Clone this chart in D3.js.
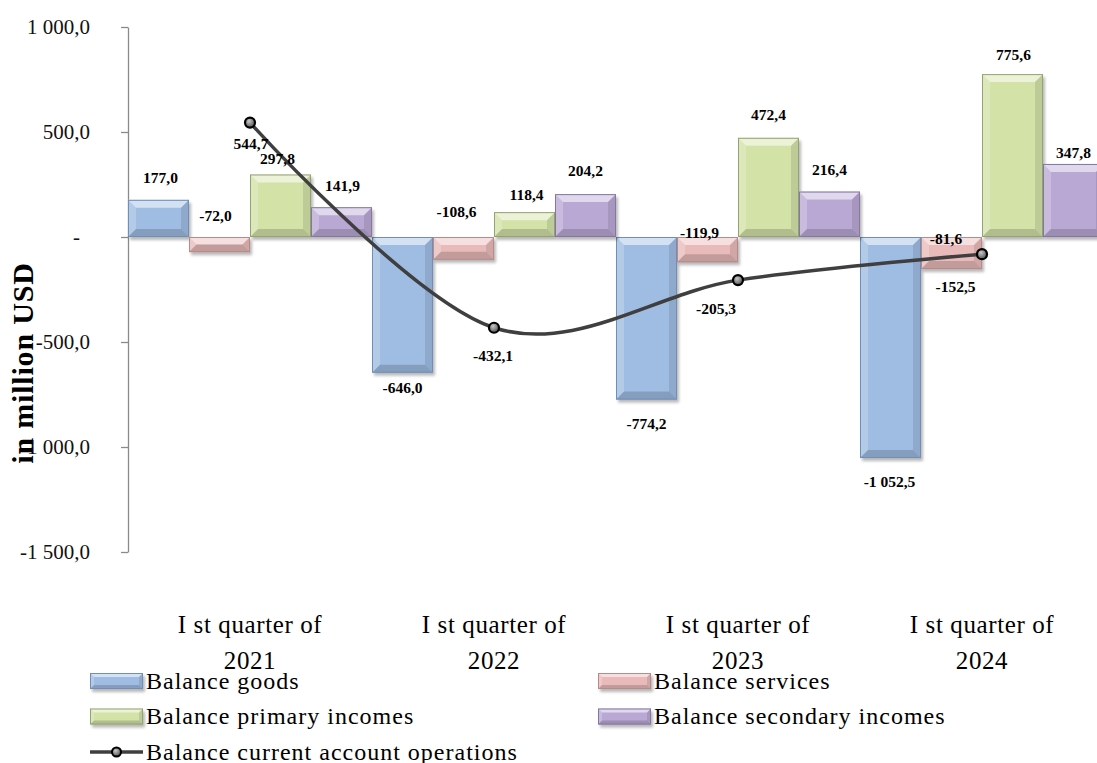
<!DOCTYPE html>
<html>
<head>
<meta charset="utf-8">
<script src="https://cdn.jsdelivr.net/npm/d3@7"></script>
<style>
  html, body { margin: 0; padding: 0; background: #fff; }
  svg { display: block; font-family: "Liberation Serif", serif; }
</style>
</head>
<body>
<div id="chart_container"></div>
<script>
// values (million USD)
var categories = ["I st quarter of 2021", "I st quarter of 2022", "I st quarter of 2023", "I st quarter of 2024"]
var goods = [177.0, -646.0, -774.2, -1052.5]
var services = [-72.0, -108.6, -119.9, -152.5]
var primaryIncomes = [297.8, 118.4, 472.4, 775.6]
var secondaryIncomes = [141.9, 204.2, 216.4, 347.8]
var currentAccount = [544.7, -432.1, -205.3, -81.6]
var yTicks = [-1500, -1000, -500, 0, 500, 1000]

var barSeries = [
    {name: "Balance goods", values: goods, fill: "#9fbde2", edge: "#6f8fb9"},
    {name: "Balance services", values: services, fill: "#e8bab9", edge: "#b88b8a"},
    {name: "Balance primary incomes", values: primaryIncomes, fill: "#d3e2a7", edge: "#93a373"},
    {name: "Balance secondary incomes", values: secondaryIncomes, fill: "#baa8d4", edge: "#8676a2"}
]
var lineName = "Balance current account operations"

// hand placed data labels, [dx, dy] from the end of each bar / each point
var barNudge = [
    [[2, -22], [0, 15], [0, 24], [-1, 24]],
    [[-4, -37], [-7, -48], [-8, -30], [4, 18]],
    [[-3, -16], [2, -18], [0, -23], [1, -20]],
    [[1, -22], [0, -24], [0, -22], [0, -11]]
]
var lineNudge = [[1, 21], [-1, 28], [-22, 28], [-36, -16]]

var W = 1097, H = 763
var left = 128, right = 1104

var svg = d3.select("#chart_container")
    .append("svg")
        .attr("width", W)
        .attr("height", H)

var defs = svg.append("defs")
defs.append("filter").attr("id", "shadow")
    .attr("x", "-20%").attr("y", "-20%").attr("width", "140%").attr("height", "140%")
    .append("feGaussianBlur").attr("stdDeviation", 1.6)
var mg = defs.append("radialGradient").attr("id", "marker_fill")
    .attr("cx", "40%").attr("cy", "35%").attr("r", "65%")
mg.append("stop").attr("offset", "0%").attr("stop-color", "#c8c8c8")
mg.append("stop").attr("offset", "100%").attr("stop-color", "#555")

var x = d3.scaleBand().domain(categories).range([left, right]).padding(0)
var xs = d3.scaleBand().domain(d3.range(barSeries.length)).range([0, x.bandwidth()]).padding(0)
var y = d3.scaleLinear().domain([-1500, 1000]).range([552, 27])

var loc = d3.formatLocale({decimal: ",", thousands: " ", grouping: [3], currency: ["", ""], minus: "-"})
var fmt = loc.format(",.1f")

// bevelled bar, like the office "3d" preset
function bevel(g, x0, y0, w, h, fill, edge, b) {
    b = Math.min(b, h / 2, w / 2)
    g.append("rect").attr("x", x0 + 2).attr("y", y0 + 3).attr("width", w).attr("height", h)
        .attr("fill", "#000").attr("opacity", 0.28).attr("filter", "url(#shadow)")
    g.append("rect").attr("x", x0).attr("y", y0).attr("width", w).attr("height", h).attr("fill", fill)
    var pts = function(a) { return a.map(function(p) { return p.join(",") }).join(" ") }
    g.append("polygon").attr("points", pts([[x0, y0], [x0 + w, y0], [x0 + w - b, y0 + b], [x0 + b, y0 + b]]))
        .attr("fill", "#fff").attr("opacity", 0.55)
    g.append("polygon").attr("points", pts([[x0, y0], [x0 + b, y0 + b], [x0 + b, y0 + h - b], [x0, y0 + h]]))
        .attr("fill", "#fff").attr("opacity", 0.22)
    g.append("polygon").attr("points", pts([[x0 + w, y0], [x0 + w, y0 + h], [x0 + w - b, y0 + h - b], [x0 + w - b, y0 + b]]))
        .attr("fill", "#000").attr("opacity", 0.1)
    g.append("polygon").attr("points", pts([[x0, y0 + h], [x0 + w, y0 + h], [x0 + w - b, y0 + h - b], [x0 + b, y0 + h - b]]))
        .attr("fill", "#000").attr("opacity", 0.16)
    g.append("rect").attr("x", x0 + 0.5).attr("y", y0 + 0.5).attr("width", w - 1).attr("height", h - 1)
        .attr("fill", "none").attr("stroke", edge).attr("stroke-width", 1)
}

// y axis
var yAxis = d3.axisLeft(y)
    .tickValues(yTicks)
    .tickSize(7)
    .tickSizeOuter(0)
    .tickPadding(31)
    .tickFormat(function(d) { return d === 0 ? "-" : fmt(d) })

var ya = svg.append("g")
    .attr("transform", "translate(" + left + ",0)")
    .call(yAxis)
ya.select(".domain").attr("stroke", "#8a8a8a").attr("stroke-width", 1.3)
ya.selectAll(".tick line").attr("stroke", "#8a8a8a").attr("stroke-width", 1.3)
ya.selectAll(".tick text")
    .attr("fill", "#111")
    .style("font-family", "Liberation Serif")
    .style("font-size", "21px")
    .attr("dx", function(d) { return d === 0 ? -10 : 0 })

// bars
var barsG = svg.append("g")
barSeries.forEach(function(s, si) {
    s.values.forEach(function(v, ci) {
        var bx = x(categories[ci]) + xs(si)
        var top = y(Math.max(0, v)), bot = y(Math.min(0, v))
        bevel(barsG.append("g"), bx, top, xs.bandwidth(), bot - top, s.fill, s.edge, 8)
    })
})

// current account line
var line = d3.line()
    .x(function(d, i) { return x(categories[i]) + x.bandwidth() / 2 })
    .y(function(d) { return y(d) })
    .curve(d3.curveCardinal.tension(0))

svg.append("path")
    .datum(currentAccount)
    .attr("d", line)
    .attr("fill", "none")
    .attr("stroke", "#3f3f3f")
    .attr("stroke-width", 3.5)

svg.selectAll(".ca_point").data(currentAccount).enter()
    .append("circle")
    .attr("class", "ca_point")
    .attr("cx", function(d, i) { return x(categories[i]) + x.bandwidth() / 2 })
    .attr("cy", function(d) { return y(d) })
    .attr("r", 5)
    .attr("fill", "url(#marker_fill)")
    .attr("stroke", "#000")
    .attr("stroke-width", 2.2)

// data labels
var labelsG = svg.append("g")
    .style("font-family", "Liberation Serif")
    .style("font-size", "15.5px")
    .style("font-weight", "bold")
    .attr("text-anchor", "middle")
    .attr("fill", "#000")

barSeries.forEach(function(s, si) {
    s.values.forEach(function(v, ci) {
        var cx = x(categories[ci]) + xs(si) + xs.bandwidth() / 2
        var n = barNudge[si][ci]
        labelsG.append("text")
            .attr("x", cx + n[0])
            .attr("y", y(v) + n[1])
            .attr("dy", "0.35em")
            .text(fmt(v))
    })
})
currentAccount.forEach(function(v, ci) {
    var n = lineNudge[ci]
    labelsG.append("text")
        .attr("x", x(categories[ci]) + x.bandwidth() / 2 + n[0])
        .attr("y", y(v) + n[1])
        .attr("dy", "0.35em")
        .text(fmt(v))
})

// category labels, wrapped on the year
var catG = svg.append("g")
    .style("font-family", "Liberation Serif")
    .style("font-size", "25px")
    .style("letter-spacing", "0.6px")
    .attr("text-anchor", "middle")
    .attr("fill", "#000")
categories.forEach(function(c) {
    var cut = c.lastIndexOf(" ")
    var t = catG.append("text").attr("x", x(c) + x.bandwidth() / 2).attr("y", 633)
    t.append("tspan").attr("x", x(c) + x.bandwidth() / 2).text(c.slice(0, cut))
    t.append("tspan").attr("x", x(c) + x.bandwidth() / 2).attr("dy", 36).text(c.slice(cut + 1))
})

// y title
svg.append("text")
    .attr("transform", "translate(33,363) rotate(-90)")
    .attr("text-anchor", "middle")
    .style("font-family", "Liberation Serif")
    .style("font-size", "30px")
    .style("font-weight", "bold")
    .style("letter-spacing", "0.8px")
    .text("in million USD")

// legend
var legendItems = barSeries.map(function(s) { return s }).concat([{name: lineName, isLine: true}])
var legendG = svg.append("g")
    .style("font-family", "Liberation Serif")
    .style("font-size", "24px")
    .style("letter-spacing", "1px")
legendItems.forEach(function(d, i) {
    var lx = i % 2 == 0 ? 90 : 598
    var ly = 681 + Math.floor(i / 2) * 35.5
    var g = legendG.append("g")
    if (d.isLine) {
        g.append("line").attr("x1", lx).attr("x2", lx + 53).attr("y1", ly).attr("y2", ly)
            .attr("stroke", "#3f3f3f").attr("stroke-width", 3.5)
        g.append("circle").attr("cx", lx + 26.5).attr("cy", ly).attr("r", 4.5)
            .attr("fill", "url(#marker_fill)").attr("stroke", "#000").attr("stroke-width", 2)
    } else {
        bevel(g, lx, ly - 8, 53, 16, d.fill, d.edge, 4)
    }
    g.append("text").attr("x", lx + 56).attr("y", ly).attr("dy", "0.33em").text(d.name)
})
</script>
</body>
</html>
